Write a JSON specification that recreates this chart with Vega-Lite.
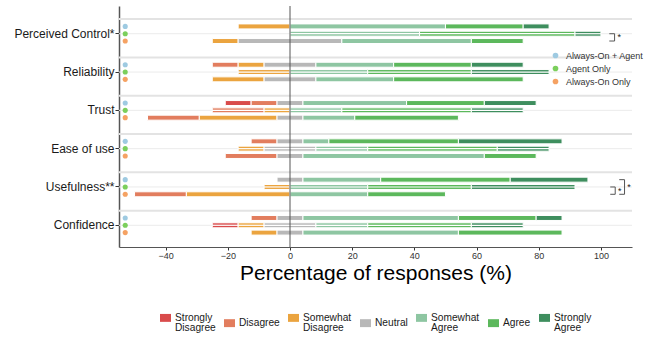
{
  "$schema": "https://vega.github.io/schema/vega-lite/v6.json",
  "width": 513,
  "height": 241,
  "autosize": {"type": "none"},
  "padding": {"left": 119, "top": 6, "right": 20, "bottom": 90},
  "background": "white",
  "config": {
    "view": {"stroke": null},
    "font": "Liberation Sans",
    "style": {"guide-label": {"font": "Liberation Sans", "lineHeight": 10.5}, "guide-title": {"font": "Liberation Sans"}},
    "axisY": {"domainColor": "#555555", "domainWidth": 1.5, "tickColor": "#333333", "tickSize": 4, "labelFont": "Liberation Sans", "labelFontSize": 12, "labelColor": "#1a1a1a", "labelPadding": 1, "grid": false, "title": null},
    "axisX": {"domainColor": "#555555", "domainWidth": 1.2, "tickColor": "#333333", "tickSize": 3, "labelFont": "Liberation Sans", "labelFontSize": 9, "labelColor": "#333333", "labelPadding": 1, "grid": false, "titleFont": "Liberation Sans", "titleFontSize": 21, "titleFontWeight": "normal", "titleColor": "#000000", "titlePadding": 2},
    "legend": {"labelFont": "Liberation Sans"}
  },
  "datasets": {
    "bars": [
      {"category": "Perceived Control*", "condition": "Always-On + Agent", "response": "Somewhat Disagree", "start": -16.67, "end": 0},
      {"category": "Perceived Control*", "condition": "Always-On + Agent", "response": "Somewhat Agree", "start": 0, "end": 50},
      {"category": "Perceived Control*", "condition": "Always-On + Agent", "response": "Agree", "start": 50, "end": 75},
      {"category": "Perceived Control*", "condition": "Always-On + Agent", "response": "Strongly Agree", "start": 75, "end": 83.33},
      {"category": "Perceived Control*", "condition": "Agent Only", "response": "Somewhat Agree", "start": 0, "end": 41.67},
      {"category": "Perceived Control*", "condition": "Agent Only", "response": "Agree", "start": 41.67, "end": 91.67},
      {"category": "Perceived Control*", "condition": "Agent Only", "response": "Strongly Agree", "start": 91.67, "end": 100},
      {"category": "Perceived Control*", "condition": "Always-On Only", "response": "Somewhat Disagree", "start": -25, "end": -16.67},
      {"category": "Perceived Control*", "condition": "Always-On Only", "response": "Neutral", "start": -16.67, "end": 16.67},
      {"category": "Perceived Control*", "condition": "Always-On Only", "response": "Somewhat Agree", "start": 16.67, "end": 58.33},
      {"category": "Perceived Control*", "condition": "Always-On Only", "response": "Agree", "start": 58.33, "end": 75},

      {"category": "Reliability", "condition": "Always-On + Agent", "response": "Disagree", "start": -25, "end": -16.67},
      {"category": "Reliability", "condition": "Always-On + Agent", "response": "Somewhat Disagree", "start": -16.67, "end": -8.33},
      {"category": "Reliability", "condition": "Always-On + Agent", "response": "Neutral", "start": -8.33, "end": 8.33},
      {"category": "Reliability", "condition": "Always-On + Agent", "response": "Somewhat Agree", "start": 8.33, "end": 33.33},
      {"category": "Reliability", "condition": "Always-On + Agent", "response": "Agree", "start": 33.33, "end": 58.33},
      {"category": "Reliability", "condition": "Always-On + Agent", "response": "Strongly Agree", "start": 58.33, "end": 75},
      {"category": "Reliability", "condition": "Agent Only", "response": "Somewhat Disagree", "start": -16.67, "end": 0},
      {"category": "Reliability", "condition": "Agent Only", "response": "Somewhat Agree", "start": 0, "end": 25},
      {"category": "Reliability", "condition": "Agent Only", "response": "Agree", "start": 25, "end": 58.33},
      {"category": "Reliability", "condition": "Agent Only", "response": "Strongly Agree", "start": 58.33, "end": 83.33},
      {"category": "Reliability", "condition": "Always-On Only", "response": "Somewhat Disagree", "start": -25, "end": -8.33},
      {"category": "Reliability", "condition": "Always-On Only", "response": "Neutral", "start": -8.33, "end": 8.33},
      {"category": "Reliability", "condition": "Always-On Only", "response": "Somewhat Agree", "start": 8.33, "end": 33.33},
      {"category": "Reliability", "condition": "Always-On Only", "response": "Agree", "start": 33.33, "end": 75},

      {"category": "Trust", "condition": "Always-On + Agent", "response": "Strongly Disagree", "start": -20.83, "end": -12.5},
      {"category": "Trust", "condition": "Always-On + Agent", "response": "Disagree", "start": -12.5, "end": -4.17},
      {"category": "Trust", "condition": "Always-On + Agent", "response": "Neutral", "start": -4.17, "end": 4.17},
      {"category": "Trust", "condition": "Always-On + Agent", "response": "Somewhat Agree", "start": 4.17, "end": 37.5},
      {"category": "Trust", "condition": "Always-On + Agent", "response": "Agree", "start": 37.5, "end": 62.5},
      {"category": "Trust", "condition": "Always-On + Agent", "response": "Strongly Agree", "start": 62.5, "end": 79.17},
      {"category": "Trust", "condition": "Agent Only", "response": "Disagree", "start": -25, "end": -8.33},
      {"category": "Trust", "condition": "Agent Only", "response": "Somewhat Disagree", "start": -8.33, "end": 0},
      {"category": "Trust", "condition": "Agent Only", "response": "Somewhat Agree", "start": 0, "end": 16.67},
      {"category": "Trust", "condition": "Agent Only", "response": "Agree", "start": 16.67, "end": 58.33},
      {"category": "Trust", "condition": "Agent Only", "response": "Strongly Agree", "start": 58.33, "end": 75},
      {"category": "Trust", "condition": "Always-On Only", "response": "Disagree", "start": -45.83, "end": -29.17},
      {"category": "Trust", "condition": "Always-On Only", "response": "Somewhat Disagree", "start": -29.17, "end": -4.17},
      {"category": "Trust", "condition": "Always-On Only", "response": "Neutral", "start": -4.17, "end": 4.17},
      {"category": "Trust", "condition": "Always-On Only", "response": "Somewhat Agree", "start": 4.17, "end": 20.83},
      {"category": "Trust", "condition": "Always-On Only", "response": "Agree", "start": 20.83, "end": 54.17},

      {"category": "Ease of use", "condition": "Always-On + Agent", "response": "Disagree", "start": -12.5, "end": -4.17},
      {"category": "Ease of use", "condition": "Always-On + Agent", "response": "Neutral", "start": -4.17, "end": 4.17},
      {"category": "Ease of use", "condition": "Always-On + Agent", "response": "Somewhat Agree", "start": 4.17, "end": 12.5},
      {"category": "Ease of use", "condition": "Always-On + Agent", "response": "Agree", "start": 12.5, "end": 54.17},
      {"category": "Ease of use", "condition": "Always-On + Agent", "response": "Strongly Agree", "start": 54.17, "end": 87.5},
      {"category": "Ease of use", "condition": "Agent Only", "response": "Somewhat Disagree", "start": -16.67, "end": -8.33},
      {"category": "Ease of use", "condition": "Agent Only", "response": "Neutral", "start": -8.33, "end": 8.33},
      {"category": "Ease of use", "condition": "Agent Only", "response": "Somewhat Agree", "start": 8.33, "end": 25},
      {"category": "Ease of use", "condition": "Agent Only", "response": "Agree", "start": 25, "end": 66.67},
      {"category": "Ease of use", "condition": "Agent Only", "response": "Strongly Agree", "start": 66.67, "end": 83.33},
      {"category": "Ease of use", "condition": "Always-On Only", "response": "Disagree", "start": -20.83, "end": -4.17},
      {"category": "Ease of use", "condition": "Always-On Only", "response": "Neutral", "start": -4.17, "end": 4.17},
      {"category": "Ease of use", "condition": "Always-On Only", "response": "Somewhat Agree", "start": 4.17, "end": 62.5},
      {"category": "Ease of use", "condition": "Always-On Only", "response": "Agree", "start": 62.5, "end": 79.17},

      {"category": "Usefulness**", "condition": "Always-On + Agent", "response": "Neutral", "start": -4.17, "end": 4.17},
      {"category": "Usefulness**", "condition": "Always-On + Agent", "response": "Somewhat Agree", "start": 4.17, "end": 29.17},
      {"category": "Usefulness**", "condition": "Always-On + Agent", "response": "Agree", "start": 29.17, "end": 70.83},
      {"category": "Usefulness**", "condition": "Always-On + Agent", "response": "Strongly Agree", "start": 70.83, "end": 95.83},
      {"category": "Usefulness**", "condition": "Agent Only", "response": "Somewhat Disagree", "start": -8.33, "end": 0},
      {"category": "Usefulness**", "condition": "Agent Only", "response": "Somewhat Agree", "start": 0, "end": 25},
      {"category": "Usefulness**", "condition": "Agent Only", "response": "Agree", "start": 25, "end": 58.33},
      {"category": "Usefulness**", "condition": "Agent Only", "response": "Strongly Agree", "start": 58.33, "end": 91.67},
      {"category": "Usefulness**", "condition": "Always-On Only", "response": "Disagree", "start": -50, "end": -33.33},
      {"category": "Usefulness**", "condition": "Always-On Only", "response": "Somewhat Disagree", "start": -33.33, "end": 0},
      {"category": "Usefulness**", "condition": "Always-On Only", "response": "Somewhat Agree", "start": 0, "end": 25},
      {"category": "Usefulness**", "condition": "Always-On Only", "response": "Agree", "start": 25, "end": 50},

      {"category": "Confidence", "condition": "Always-On + Agent", "response": "Disagree", "start": -12.5, "end": -4.17},
      {"category": "Confidence", "condition": "Always-On + Agent", "response": "Neutral", "start": -4.17, "end": 4.17},
      {"category": "Confidence", "condition": "Always-On + Agent", "response": "Somewhat Agree", "start": 4.17, "end": 54.17},
      {"category": "Confidence", "condition": "Always-On + Agent", "response": "Agree", "start": 54.17, "end": 79.17},
      {"category": "Confidence", "condition": "Always-On + Agent", "response": "Strongly Agree", "start": 79.17, "end": 87.5},
      {"category": "Confidence", "condition": "Agent Only", "response": "Strongly Disagree", "start": -25, "end": -16.67},
      {"category": "Confidence", "condition": "Agent Only", "response": "Somewhat Disagree", "start": -16.67, "end": -8.33},
      {"category": "Confidence", "condition": "Agent Only", "response": "Neutral", "start": -8.33, "end": 8.33},
      {"category": "Confidence", "condition": "Agent Only", "response": "Somewhat Agree", "start": 8.33, "end": 25},
      {"category": "Confidence", "condition": "Agent Only", "response": "Agree", "start": 25, "end": 58.33},
      {"category": "Confidence", "condition": "Agent Only", "response": "Strongly Agree", "start": 58.33, "end": 75},
      {"category": "Confidence", "condition": "Always-On Only", "response": "Somewhat Disagree", "start": -12.5, "end": -4.17},
      {"category": "Confidence", "condition": "Always-On Only", "response": "Neutral", "start": -4.17, "end": 4.17},
      {"category": "Confidence", "condition": "Always-On Only", "response": "Somewhat Agree", "start": 4.17, "end": 54.17},
      {"category": "Confidence", "condition": "Always-On Only", "response": "Agree", "start": 54.17, "end": 87.5}
    ],
    "cats": [
      {"category": "Perceived Control*"}, {"category": "Reliability"}, {"category": "Trust"},
      {"category": "Ease of use"}, {"category": "Usefulness**"}, {"category": "Confidence"}
    ],
    "brackets": [
      {"id": "pc", "k": 1, "category": "Perceived Control*", "condition": "Agent Only", "x": 102.7},
      {"id": "pc", "k": 2, "category": "Perceived Control*", "condition": "Agent Only", "x": 104.4},
      {"id": "pc", "k": 3, "category": "Perceived Control*", "condition": "Always-On Only", "x": 104.4},
      {"id": "pc", "k": 4, "category": "Perceived Control*", "condition": "Always-On Only", "x": 102.7},
      {"id": "u1", "k": 1, "category": "Usefulness**", "condition": "Agent Only", "x": 103},
      {"id": "u1", "k": 2, "category": "Usefulness**", "condition": "Agent Only", "x": 104.6},
      {"id": "u1", "k": 3, "category": "Usefulness**", "condition": "Always-On Only", "x": 104.6},
      {"id": "u1", "k": 4, "category": "Usefulness**", "condition": "Always-On Only", "x": 103},
      {"id": "u2", "k": 1, "category": "Usefulness**", "condition": "Always-On + Agent", "x": 105.9},
      {"id": "u2", "k": 2, "category": "Usefulness**", "condition": "Always-On + Agent", "x": 107.6},
      {"id": "u2", "k": 3, "category": "Usefulness**", "condition": "Always-On Only", "x": 107.6},
      {"id": "u2", "k": 4, "category": "Usefulness**", "condition": "Always-On Only", "x": 105.9}
    ]
  },
  "layer": [
    {
      "data": {"name": "cats"},
      "mark": {"type": "rule", "color": "#e3e3e3", "strokeWidth": 2},
      "encoding": {
        "y": {"field": "category", "type": "nominal", "scale": {"domain": ["Perceived Control*", "Reliability", "Trust", "Ease of use", "Usefulness**", "Confidence"], "paddingInner": 0, "paddingOuter": 0.145, "align": 0.77}},
        "yOffset": {"datum": "sep", "scale": {"domain": ["sep", "Always-On + Agent", "Agent Only", "Always-On Only"], "paddingInner": 0.32, "paddingOuter": 0.78, "align": 0.18}}
      }
    },
    {
      "data": {"name": "cats"},
      "mark": {"type": "rule", "color": "#ebebeb", "strokeWidth": 1},
      "encoding": {
        "y": {"field": "category", "type": "nominal"},
        "yOffset": {"datum": "Agent Only"}
      }
    },
    {
      "data": {"name": "bars"},
      "mark": {"type": "bar", "stroke": "white", "strokeWidth": 1},
      "encoding": {
        "x": {"field": "start", "type": "quantitative", "title": "Percentage of responses (%)", "scale": {"domain": [-55, 110], "nice": false, "zero": false}, "axis": {"values": [-40, -20, 0, 20, 40, 60, 80, 100]}},
        "x2": {"field": "end"},
        "y": {"field": "category", "type": "nominal"},
        "yOffset": {"field": "condition", "type": "nominal"},
        "color": {
          "field": "response", "type": "nominal",
          "scale": {"domain": ["Strongly Disagree", "Disagree", "Somewhat Disagree", "Neutral", "Somewhat Agree", "Agree", "Strongly Agree"],
                    "range": ["#d94b4b", "#e27d5e", "#eba43f", "#b8b8b8", "#8ec6a2", "#5cb85c", "#3e8e5e"]},
          "legend": {"orient": "none", "legendX": 41, "legendY": 306, "direction": "horizontal", "columns": 7, "title": null,
                     "labelExpr": "split(datum.label, ' ')", "labelFont": "Liberation Sans", "labelFontSize": 10.2, "labelColor": "#1a1a1a",
                     "symbolType": "M-1,-0.72H1V0.72H-1Z", "symbolSize": 121, "symbolStrokeWidth": 0,
                     "labelOffset": 4, "columnPadding": 8, "labelLimit": 200}
        }
      }
    },
    {
      "data": {"name": "bars"},
      "transform": [{"filter": "datum.condition === 'Agent Only'"}],
      "mark": {"type": "bar", "color": "white", "height": 1.2},
      "encoding": {
        "x": {"field": "start", "type": "quantitative", "title": "Percentage of responses (%)"},
        "x2": {"field": "end"},
        "y": {"field": "category", "type": "nominal"},
        "yOffset": {"field": "condition", "type": "nominal"}
      }
    },
    {
      "data": {"values": [{}]},
      "mark": {"type": "rule", "color": "#555555", "strokeWidth": 1},
      "encoding": {
        "x": {"datum": 0, "type": "quantitative", "title": "Percentage of responses (%)"}
      }
    },
    {
      "data": {"name": "bars"},
      "transform": [{"aggregate": [{"op": "count", "as": "n"}], "groupby": ["category", "condition"]}],
      "mark": {"type": "point", "filled": true, "size": 26, "opacity": 1},
      "encoding": {
        "x": {"datum": -53, "type": "quantitative", "title": "Percentage of responses (%)"},
        "y": {"field": "category", "type": "nominal"},
        "yOffset": {"field": "condition", "type": "nominal"},
        "fill": {
          "field": "condition", "type": "nominal",
          "scale": {"domain": ["Always-On + Agent", "Agent Only", "Always-On Only"], "range": ["#9ecae1", "#7bcf5c", "#f5a263"]},
          "legend": {"orient": "none", "legendX": 432, "legendY": 45, "title": null, "labelFont": "Liberation Sans", "labelFontSize": 9, "labelColor": "#333333",
                     "symbolType": "circle", "symbolSize": 32, "symbolStrokeWidth": 0, "rowPadding": 3, "labelOffset": 6}
        }
      }
    },
    {
      "data": {"name": "brackets"},
      "mark": {"type": "line", "color": "#555555", "strokeWidth": 1},
      "encoding": {
        "x": {"field": "x", "type": "quantitative", "title": "Percentage of responses (%)"},
        "y": {"field": "category", "type": "nominal"},
        "yOffset": {"field": "condition", "type": "nominal"},
        "detail": {"field": "id"},
        "order": {"field": "k"}
      }
    },
    {
      "data": {"values": [
        {"category": "Perceived Control*", "condition": "Always-On Only", "x": 105.9, "label": "*"},
        {"category": "Usefulness**", "condition": "Always-On Only", "x": 106.1, "label": "*"}
      ]},
      "mark": {"type": "text", "font": "Liberation Sans", "fontSize": 9, "dy": -3.7, "align": "center", "baseline": "middle", "color": "#222222"},
      "encoding": {
        "x": {"field": "x", "type": "quantitative", "title": "Percentage of responses (%)"},
        "y": {"field": "category", "type": "nominal"},
        "yOffset": {"field": "condition", "type": "nominal"},
        "text": {"field": "label"}
      }
    },
    {
      "data": {"values": [
        {"category": "Usefulness**", "condition": "Agent Only", "x": 109, "label": "*"}
      ]},
      "mark": {"type": "text", "font": "Liberation Sans", "fontSize": 9, "align": "center", "baseline": "middle", "color": "#222222"},
      "encoding": {
        "x": {"field": "x", "type": "quantitative", "title": "Percentage of responses (%)"},
        "y": {"field": "category", "type": "nominal"},
        "yOffset": {"field": "condition", "type": "nominal"},
        "text": {"field": "label"}
      }
    }
  ]
}
